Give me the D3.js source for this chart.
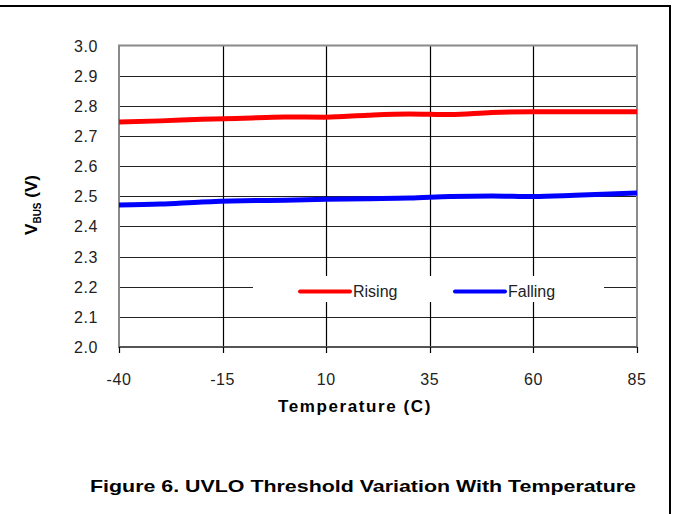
<!DOCTYPE html>
<html>
<head>
<meta charset="utf-8">
<title>UVLO Threshold Variation With Temperature</title>
<style>
body { margin: 0; background: #fff; }
svg { display: block; }
.ticktext { font: 16px Arial, "Liberation Sans", sans-serif; fill: #222; letter-spacing: 0.6px; }
.axtitle { font: bold 17px Arial, "Liberation Sans", sans-serif; fill: #000; }
.legtext { font: 16px Arial, "Liberation Sans", sans-serif; fill: #222; }
.caption { font: bold 17px Arial, "Liberation Sans", sans-serif; fill: #000; }
</style>
</head>
<body>
<svg width="673" height="514"></svg>
<script src="https://d3js.org/d3.v7.min.js"></script>
<script>

// temperatures (C)
var temps = [-40, -30, -20, -10, 0, 10, 20, 30, 40, 50, 60, 70, 85];
// VBUS threshold, rising edge
var rising = [2.746, 2.750, 2.755, 2.759, 2.763, 2.762, 2.769, 2.773, 2.771, 2.778, 2.780, 2.780, 2.780];
// VBUS threshold, falling edge
var falling = [2.471, 2.474, 2.481, 2.485, 2.487, 2.490, 2.492, 2.494, 2.499, 2.501, 2.499, 2.503, 2.511];

var xTicks = [-40, -15, 10, 35, 60, 85];
var yTicks = [2.0, 2.1, 2.2, 2.3, 2.4, 2.5, 2.6, 2.7, 2.8, 2.9, 3.0];

var svg = d3.select("svg");

// page frame
svg.append("line").attr("x1", 0).attr("x2", 671).attr("y1", 6).attr("y2", 6)
  .attr("stroke", "#000").attr("stroke-width", 2);
svg.append("line").attr("x1", 670).attr("x2", 670).attr("y1", 6).attr("y2", 514)
  .attr("stroke", "#000").attr("stroke-width", 2);

var x = d3.scaleLinear().domain([-40, 85]).range([119, 637]);
var y = d3.scaleLinear().domain([2.0, 3.0]).range([347, 45.5]);

var g = svg.append("g");

// horizontal grid
g.selectAll(".hg").data(yTicks.slice(1, -1)).enter().append("line")
  .attr("x1", x(-40)).attr("x2", x(85))
  .attr("y1", function(d) { return Math.round(y(d)) + 0.5; })
  .attr("y2", function(d) { return Math.round(y(d)) + 0.5; })
  .attr("stroke", "#222").attr("stroke-width", 1.2);

// vertical grid
g.selectAll(".vg").data(xTicks.slice(1, -1)).enter().append("line")
  .attr("x1", function(d) { return Math.round(x(d)) + 0.5; })
  .attr("x2", function(d) { return Math.round(x(d)) + 0.5; })
  .attr("y1", y(3.0)).attr("y2", y(2.0))
  .attr("stroke", "#000").attr("stroke-width", 1.2);

// plot border
g.append("rect").attr("x", x(-40)).attr("y", y(3.0))
  .attr("width", x(85) - x(-40)).attr("height", y(2.0) - y(3.0))
  .attr("fill", "none").attr("stroke", "#8a8a8a").attr("stroke-width", 2);
g.append("line").attr("x1", x(-40)).attr("x2", x(85)).attr("y1", y(2.0)).attr("y2", y(2.0))
  .attr("stroke", "#555").attr("stroke-width", 2);

// x tick marks
g.selectAll(".xt").data(xTicks).enter().append("line")
  .attr("x1", function(d) { return Math.round(x(d)) + 0.5; })
  .attr("x2", function(d) { return Math.round(x(d)) + 0.5; })
  .attr("y1", y(2.0)).attr("y2", y(2.0) + 6)
  .attr("stroke", "#000").attr("stroke-width", 1.2);

// tick labels
g.selectAll(".yl").data(yTicks).enter().append("text")
  .attr("class", "ticktext")
  .attr("x", 98).attr("y", function(d) { return y(d) + 6; })
  .attr("text-anchor", "end")
  .text(function(d) { return d.toFixed(1); });

g.selectAll(".xl").data(xTicks).enter().append("text")
  .attr("class", "ticktext")
  .attr("x", function(d) { return x(d); }).attr("y", 385)
  .attr("text-anchor", "middle")
  .text(function(d) { return d; });

// axis titles
svg.append("text").attr("class", "axtitle")
  .attr("x", 355).attr("y", 412).attr("text-anchor", "middle")
  .style("letter-spacing", "1.6px")
  .text("Temperature (C)");

var yt = svg.append("text").attr("class", "axtitle")
  .attr("transform", "translate(37,205) rotate(-90)")
  .attr("text-anchor", "middle");
yt.append("tspan").text("V");
yt.append("tspan").attr("font-size", "10px").attr("dy", 4).text("BUS");
yt.append("tspan").attr("dy", -4).text(" (V)");

// series
var line = d3.line()
  .x(function(d) { return x(d[0]); })
  .y(function(d) { return y(d[1]); })
  .curve(d3.curveMonotoneX);

g.append("path").datum(d3.zip(temps, rising))
  .attr("d", line).attr("fill", "none")
  .attr("stroke", "#ff0000").attr("stroke-width", 5);
g.append("path").datum(d3.zip(temps, falling))
  .attr("d", line).attr("fill", "none")
  .attr("stroke", "#0000ff").attr("stroke-width", 5);

// legend
var leg = svg.append("g");
leg.append("rect").attr("x", 253).attr("y", 276).attr("width", 351).attr("height", 26)
  .attr("fill", "#fff");
var legItems = [
  { name: "Rising", color: "#ff0000", x0: 300 },
  { name: "Falling", color: "#0000ff", x0: 455 }
];
legItems.forEach(function(it) {
  leg.append("line").attr("x1", it.x0).attr("x2", it.x0 + 50)
    .attr("y1", 291.5).attr("y2", 291.5)
    .attr("stroke", it.color).attr("stroke-width", 4).attr("stroke-linecap", "round");
  leg.append("text").attr("class", "legtext")
    .attr("x", it.x0 + 53).attr("y", 297)
    .text(it.name);
});

// caption
svg.append("text").attr("class", "caption")
  .attr("x", 90).attr("y", 492)
  .attr("textLength", 546).attr("lengthAdjust", "spacingAndGlyphs")
  .text("Figure 6. UVLO Threshold Variation With Temperature");

</script>
</body>
</html>
